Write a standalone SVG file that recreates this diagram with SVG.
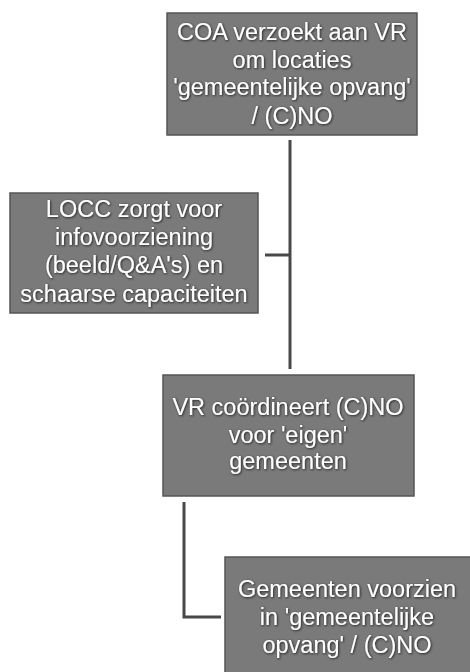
<svg xmlns="http://www.w3.org/2000/svg" width="470" height="672" viewBox="0 0 470 672">
<style>
.box{fill:#7a7a7a;stroke:#555555;stroke-width:1.5}
.t{font-family:"Liberation Sans",Arial,sans-serif;font-size:23.5px;fill:#ffffff;text-anchor:middle;filter:url(#sh)}
.c{fill:none;stroke:#484848;stroke-width:3}
</style>
<defs>
<filter id="sh" x="-10%" y="-20%" width="120%" height="140%">
<feDropShadow dx="0.8" dy="0.8" stdDeviation="0.9" flood-color="#1a1a1a" flood-opacity="1"/>
</filter>
</defs>
<rect width="470" height="672" fill="#ffffff"/>
<g id="connectors">
<line class="c" x1="290" y1="140" x2="290" y2="369"/>
<line class="c" x1="265" y1="255" x2="290" y2="255"/>
<polyline class="c" points="184,502 184,617 221,617"/>
</g>
<g id="n1">
<rect class="box" x="167" y="13" width="250" height="122"/>
<text class="t" x="292" y="40">COA verzoekt aan VR</text>
<text class="t" x="292" y="68">om locaties</text>
<text class="t" x="292" y="95">'gemeentelijke opvang'</text>
<text class="t" x="292" y="124">/ (C)NO</text>
</g>
<g id="n2">
<rect class="box" x="10" y="193" width="248" height="120"/>
<text class="t" x="134" y="217">LOCC zorgt voor</text>
<text class="t" x="134" y="245">infovoorziening</text>
<text class="t" x="134" y="273">(beeld/Q&amp;A's) en</text>
<text class="t" x="134" y="302">schaarse capaciteiten</text>
</g>
<g id="n3">
<rect class="box" x="163" y="375" width="251" height="121"/>
<text class="t" x="288" y="415">VR coördineert (C)NO</text>
<text class="t" x="288" y="443">voor 'eigen'</text>
<text class="t" x="288" y="469">gemeenten</text>
</g>
<g id="n4">
<rect class="box" x="225" y="557" width="250" height="120"/>
<text class="t" x="347" y="597">Gemeenten voorzien</text>
<text class="t" x="347" y="625">in 'gemeentelijke</text>
<text class="t" x="347" y="653">opvang' / (C)NO</text>
</g>
</svg>
